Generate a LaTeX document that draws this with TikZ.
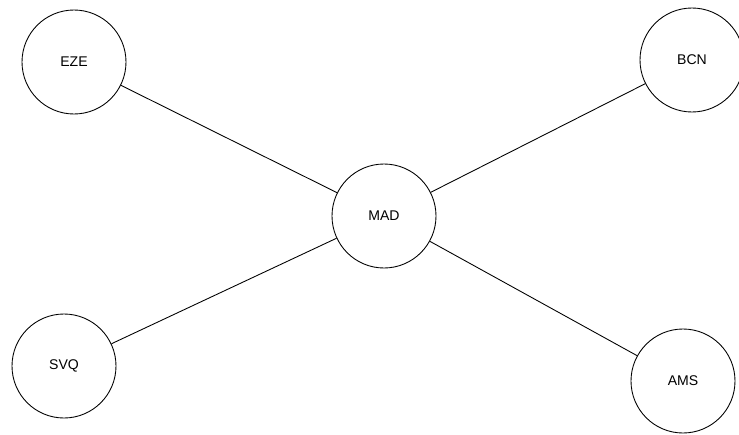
\documentclass[tikz,border=0pt]{standalone}
\usepackage{fontspec}
\setmainfont{Liberation Sans}
\begin{document}
\begin{tikzpicture}[every node/.style={circle,draw=black,fill=white,line width=0.5pt,minimum size=2.08cm,inner sep=0pt,font=\fontsize{8}{10}\selectfont}]
  \useasboundingbox (0,0) rectangle (14.78,8.68);

  % Aeropuerto central
  \node (mad) at (7.68, 4.36) {MAD};

  % Aeropuertos de los extremos
  \node (eze) at (1.48, 7.44) {EZE};
  \node (bcn) at (13.84, 7.48) {BCN};
  \node (svq) at (1.28, 1.36) {SVQ};
  \node (ams) at (13.66, 1.06) {AMS};

  % Rutas desde MAD
  \foreach \to in {eze, bcn, svq, ams}
    \draw[line width=0.5pt] (mad) -- (\to);
\end{tikzpicture}
\end{document}
